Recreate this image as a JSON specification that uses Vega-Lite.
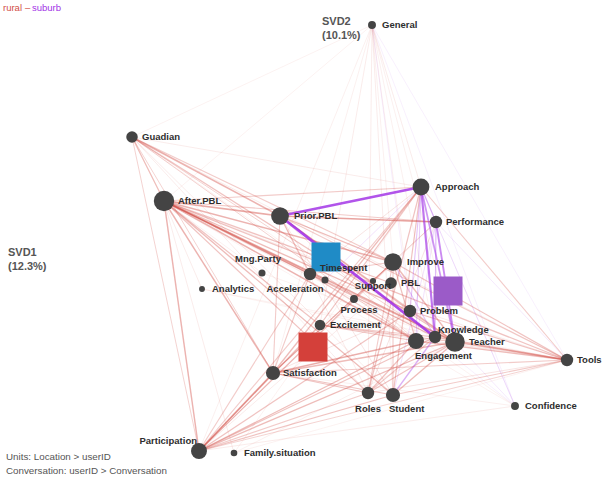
{
  "$schema": "https://vega.github.io/schema/vega-lite/v6.json",
  "width": 608,
  "height": 484,
  "autosize": "none",
  "padding": 0,
  "background": "white",
  "config": {"view": {"stroke": null}, "font": "Liberation Sans"},
  "datasets": {
    "nodes": [
      {"name": "General", "x": 0.21, "y": 1.175, "freq": 20},
      {"name": "Guadian", "x": -0.99, "y": 0.615, "freq": 42},
      {"name": "After.PBL", "x": -0.83, "y": 0.295, "freq": 132},
      {"name": "Prior.PBL", "x": -0.25, "y": 0.22, "freq": 100},
      {"name": "Approach", "x": 0.455, "y": 0.365, "freq": 90},
      {"name": "Performance", "x": 0.53, "y": 0.19, "freq": 49},
      {"name": "Mng.Party", "x": -0.34, "y": -0.065, "freq": 16},
      {"name": "Acceleration", "x": -0.10, "y": -0.07, "freq": 49},
      {"name": "Timespent", "x": -0.025, "y": -0.10, "freq": 16},
      {"name": "Analytics", "x": -0.64, "y": -0.145, "freq": 11},
      {"name": "Improve", "x": 0.315, "y": -0.01, "freq": 100},
      {"name": "PBL", "x": 0.305, "y": -0.115, "freq": 42},
      {"name": "Support", "x": 0.215, "y": -0.105, "freq": 12},
      {"name": "Process", "x": 0.12, "y": -0.195, "freq": 20},
      {"name": "Excitement", "x": -0.05, "y": -0.325, "freq": 36},
      {"name": "Problem", "x": 0.40, "y": -0.255, "freq": 49},
      {"name": "Knowledge", "x": 0.525, "y": -0.385, "freq": 49},
      {"name": "Engagement", "x": 0.43, "y": -0.405, "freq": 81},
      {"name": "Teacher", "x": 0.625, "y": -0.41, "freq": 121},
      {"name": "Satisfaction", "x": -0.285, "y": -0.565, "freq": 64},
      {"name": "Roles", "x": 0.19, "y": -0.665, "freq": 49},
      {"name": "Student", "x": 0.315, "y": -0.675, "freq": 64},
      {"name": "Tools", "x": 1.185, "y": -0.50, "freq": 49},
      {"name": "Confidence", "x": 0.925, "y": -0.73, "freq": 20},
      {"name": "Participation", "x": -0.655, "y": -0.955, "freq": 81},
      {"name": "Family.situation", "x": -0.48, "y": -0.965, "freq": 14}
    ],
    "edges": [
      {"from": "General", "to": "Participation", "g": "rural", "w": 0.12},
      {"from": "General", "to": "Satisfaction", "g": "rural", "w": 0.12},
      {"from": "General", "to": "Teacher", "g": "rural", "w": 0.12},
      {"from": "General", "to": "Student", "g": "rural", "w": 0.15},
      {"from": "General", "to": "Roles", "g": "rural", "w": 0.15},
      {"from": "General", "to": "Knowledge", "g": "rural", "w": 0.12},
      {"from": "General", "to": "Engagement", "g": "rural", "w": 0.12},
      {"from": "General", "to": "Tools", "g": "suburb", "w": 0.1},
      {"from": "General", "to": "Excitement", "g": "rural", "w": 0.15},
      {"from": "General", "to": "Improve", "g": "rural", "w": 0.12},
      {"from": "General", "to": "Approach", "g": "rural", "w": 0.15},
      {"from": "General", "to": "Guadian", "g": "rural", "w": 0.1},
      {"from": "General", "to": "After.PBL", "g": "rural", "w": 0.1},
      {"from": "General", "to": "Confidence", "g": "suburb", "w": 0.1},
      {"from": "General", "to": "Problem", "g": "suburb", "w": 0.12},
      {"from": "Confidence", "to": "Approach", "g": "suburb", "w": 0.15},
      {"from": "Confidence", "to": "Performance", "g": "suburb", "w": 0.12},
      {"from": "Confidence", "to": "Participation", "g": "rural", "w": 0.15},
      {"from": "Confidence", "to": "Satisfaction", "g": "rural", "w": 0.12},
      {"from": "Confidence", "to": "Teacher", "g": "suburb", "w": 0.15},
      {"from": "Confidence", "to": "Prior.PBL", "g": "suburb", "w": 0.1},
      {"from": "Confidence", "to": "After.PBL", "g": "rural", "w": 0.1},
      {"from": "Confidence", "to": "Guadian", "g": "rural", "w": 0.1},
      {"from": "Family.situation", "to": "Teacher", "g": "rural", "w": 0.12},
      {"from": "Family.situation", "to": "Tools", "g": "rural", "w": 0.1},
      {"from": "Family.situation", "to": "After.PBL", "g": "rural", "w": 0.15},
      {"from": "Family.situation", "to": "Approach", "g": "rural", "w": 0.1},
      {"from": "Analytics", "to": "Teacher", "g": "rural", "w": 0.1},
      {"from": "Analytics", "to": "After.PBL", "g": "rural", "w": 0.15},
      {"from": "Analytics", "to": "Tools", "g": "rural", "w": 0.1},
      {"from": "Mng.Party", "to": "Teacher", "g": "rural", "w": 0.1},
      {"from": "Mng.Party", "to": "After.PBL", "g": "rural", "w": 0.12},
      {"from": "Process", "to": "After.PBL", "g": "rural", "w": 0.15},
      {"from": "Process", "to": "Teacher", "g": "rural", "w": 0.15},
      {"from": "Support", "to": "After.PBL", "g": "rural", "w": 0.15},
      {"from": "Support", "to": "Participation", "g": "rural", "w": 0.12},
      {"from": "Guadian", "to": "Tools", "g": "rural", "w": 0.15},
      {"from": "Guadian", "to": "Roles", "g": "rural", "w": 0.15},
      {"from": "Guadian", "to": "Student", "g": "rural", "w": 0.15},
      {"from": "Guadian", "to": "Approach", "g": "rural", "w": 0.15},
      {"from": "Participation", "to": "Performance", "g": "rural", "w": 0.15},
      {"from": "Participation", "to": "PBL", "g": "rural", "w": 0.15},
      {"from": "Satisfaction", "to": "Knowledge", "g": "rural", "w": 0.2},
      {"from": "Satisfaction", "to": "Problem", "g": "rural", "w": 0.2},
      {"from": "Tools", "to": "Roles", "g": "rural", "w": 0.2},
      {"from": "Tools", "to": "Excitement", "g": "rural", "w": 0.2},
      {"from": "Tools", "to": "Acceleration", "g": "rural", "w": 0.15},
      {"from": "Tools", "to": "Performance", "g": "suburb", "w": 0.15},
      {"from": "Prior.PBL", "to": "Roles", "g": "rural", "w": 0.15},
      {"from": "Prior.PBL", "to": "Student", "g": "rural", "w": 0.2},
      {"from": "Prior.PBL", "to": "Engagement", "g": "rural", "w": 0.2},
      {"from": "Performance", "to": "Student", "g": "suburb", "w": 0.2},
      {"from": "Performance", "to": "Roles", "g": "rural", "w": 0.2},
      {"from": "Performance", "to": "Engagement", "g": "suburb", "w": 0.2},
      {"from": "Approach", "to": "Acceleration", "g": "rural", "w": 0.2},
      {"from": "Approach", "to": "Timespent", "g": "suburb", "w": 0.2},
      {"from": "After.PBL", "to": "Prior.PBL", "g": "rural", "w": 0.55},
      {"from": "After.PBL", "to": "Acceleration", "g": "rural", "w": 0.45},
      {"from": "After.PBL", "to": "Timespent", "g": "rural", "w": 0.4},
      {"from": "After.PBL", "to": "Improve", "g": "rural", "w": 0.5},
      {"from": "After.PBL", "to": "PBL", "g": "rural", "w": 0.4},
      {"from": "After.PBL", "to": "Problem", "g": "rural", "w": 0.45},
      {"from": "After.PBL", "to": "Knowledge", "g": "rural", "w": 0.45},
      {"from": "After.PBL", "to": "Teacher", "g": "rural", "w": 0.55},
      {"from": "After.PBL", "to": "Engagement", "g": "rural", "w": 0.5},
      {"from": "After.PBL", "to": "Satisfaction", "g": "rural", "w": 0.5},
      {"from": "After.PBL", "to": "Student", "g": "rural", "w": 0.45},
      {"from": "After.PBL", "to": "Roles", "g": "rural", "w": 0.4},
      {"from": "After.PBL", "to": "Participation", "g": "rural", "w": 0.5},
      {"from": "After.PBL", "to": "Tools", "g": "rural", "w": 0.4},
      {"from": "After.PBL", "to": "Guadian", "g": "rural", "w": 0.45},
      {"from": "After.PBL", "to": "Excitement", "g": "rural", "w": 0.4},
      {"from": "After.PBL", "to": "Approach", "g": "rural", "w": 0.35},
      {"from": "After.PBL", "to": "Performance", "g": "rural", "w": 0.35},
      {"from": "Guadian", "to": "Prior.PBL", "g": "rural", "w": 0.5},
      {"from": "Guadian", "to": "Improve", "g": "rural", "w": 0.35},
      {"from": "Guadian", "to": "Teacher", "g": "rural", "w": 0.4},
      {"from": "Guadian", "to": "Satisfaction", "g": "rural", "w": 0.3},
      {"from": "Guadian", "to": "Participation", "g": "rural", "w": 0.3},
      {"from": "Guadian", "to": "Knowledge", "g": "rural", "w": 0.3},
      {"from": "Guadian", "to": "Engagement", "g": "rural", "w": 0.3},
      {"from": "Participation", "to": "Satisfaction", "g": "rural", "w": 0.55},
      {"from": "Participation", "to": "Excitement", "g": "rural", "w": 0.45},
      {"from": "Participation", "to": "Teacher", "g": "rural", "w": 0.45},
      {"from": "Participation", "to": "Engagement", "g": "rural", "w": 0.45},
      {"from": "Participation", "to": "Knowledge", "g": "rural", "w": 0.4},
      {"from": "Participation", "to": "Student", "g": "rural", "w": 0.4},
      {"from": "Participation", "to": "Roles", "g": "rural", "w": 0.35},
      {"from": "Participation", "to": "Tools", "g": "rural", "w": 0.3},
      {"from": "Participation", "to": "Improve", "g": "rural", "w": 0.4},
      {"from": "Participation", "to": "Approach", "g": "rural", "w": 0.35},
      {"from": "Participation", "to": "Problem", "g": "rural", "w": 0.4},
      {"from": "Participation", "to": "Acceleration", "g": "rural", "w": 0.35},
      {"from": "Satisfaction", "to": "Approach", "g": "rural", "w": 0.45},
      {"from": "Satisfaction", "to": "Teacher", "g": "rural", "w": 0.45},
      {"from": "Satisfaction", "to": "Engagement", "g": "rural", "w": 0.45},
      {"from": "Satisfaction", "to": "Tools", "g": "rural", "w": 0.35},
      {"from": "Satisfaction", "to": "Student", "g": "rural", "w": 0.4},
      {"from": "Satisfaction", "to": "Roles", "g": "rural", "w": 0.4},
      {"from": "Satisfaction", "to": "Improve", "g": "rural", "w": 0.4},
      {"from": "Satisfaction", "to": "Performance", "g": "rural", "w": 0.3},
      {"from": "Satisfaction", "to": "Prior.PBL", "g": "rural", "w": 0.35},
      {"from": "Satisfaction", "to": "Acceleration", "g": "rural", "w": 0.35},
      {"from": "Tools", "to": "Teacher", "g": "rural", "w": 0.5},
      {"from": "Tools", "to": "Engagement", "g": "rural", "w": 0.45},
      {"from": "Tools", "to": "Knowledge", "g": "rural", "w": 0.45},
      {"from": "Tools", "to": "Improve", "g": "rural", "w": 0.4},
      {"from": "Tools", "to": "Problem", "g": "rural", "w": 0.4},
      {"from": "Tools", "to": "Prior.PBL", "g": "rural", "w": 0.35},
      {"from": "Tools", "to": "Approach", "g": "rural", "w": 0.35},
      {"from": "Tools", "to": "Student", "g": "rural", "w": 0.35},
      {"from": "Approach", "to": "Roles", "g": "rural", "w": 0.4},
      {"from": "Approach", "to": "Student", "g": "rural", "w": 0.4},
      {"from": "Approach", "to": "Excitement", "g": "rural", "w": 0.4},
      {"from": "Improve", "to": "Roles", "g": "rural", "w": 0.35},
      {"from": "Improve", "to": "Student", "g": "rural", "w": 0.35},
      {"from": "Improve", "to": "Teacher", "g": "rural", "w": 0.45},
      {"from": "Improve", "to": "Engagement", "g": "rural", "w": 0.4},
      {"from": "Prior.PBL", "to": "Performance", "g": "rural", "w": 0.6},
      {"from": "Prior.PBL", "to": "Improve", "g": "rural", "w": 0.45},
      {"from": "Prior.PBL", "to": "Teacher", "g": "rural", "w": 0.4},
      {"from": "Prior.PBL", "to": "Problem", "g": "rural", "w": 0.4},
      {"from": "Prior.PBL", "to": "Acceleration", "g": "rural", "w": 0.4},
      {"from": "Excitement", "to": "Teacher", "g": "rural", "w": 0.4},
      {"from": "Excitement", "to": "Engagement", "g": "rural", "w": 0.4},
      {"from": "Excitement", "to": "Knowledge", "g": "rural", "w": 0.35},
      {"from": "Roles", "to": "Teacher", "g": "rural", "w": 0.4},
      {"from": "Student", "to": "Teacher", "g": "rural", "w": 0.45},
      {"from": "Roles", "to": "Engagement", "g": "rural", "w": 0.4},
      {"from": "Roles", "to": "Knowledge", "g": "rural", "w": 0.35},
      {"from": "Acceleration", "to": "Teacher", "g": "rural", "w": 0.35},
      {"from": "Acceleration", "to": "Engagement", "g": "rural", "w": 0.35},
      {"from": "Acceleration", "to": "Improve", "g": "rural", "w": 0.35},
      {"from": "Problem", "to": "Teacher", "g": "rural", "w": 0.4},
      {"from": "Approach", "to": "Problem", "g": "suburb", "w": 0.35},
      {"from": "Approach", "to": "Performance", "g": "suburb", "w": 0.4},
      {"from": "Approach", "to": "Engagement", "g": "suburb", "w": 0.3},
      {"from": "Performance", "to": "Knowledge", "g": "suburb", "w": 0.4},
      {"from": "Student", "to": "Knowledge", "g": "suburb", "w": 0.45},
      {"from": "Improve", "to": "Knowledge", "g": "suburb", "w": 0.35},
      {"from": "Approach", "to": "Teacher", "g": "suburb", "w": 0.6},
      {"from": "Performance", "to": "Teacher", "g": "suburb", "w": 0.65},
      {"from": "Approach", "to": "Knowledge", "g": "suburb", "w": 0.75},
      {"from": "Prior.PBL", "to": "Knowledge", "g": "suburb", "w": 0.95},
      {"from": "Prior.PBL", "to": "Approach", "g": "suburb", "w": 0.9}
    ],
    "means": [
      {"group": "rural", "x": -0.085, "y": -0.435},
      {"group": "other", "x": -0.02, "y": 0.015},
      {"group": "suburb", "x": 0.59, "y": -0.155}
    ],
    "axisNotes": [
      {"t": "SVD2\n(10.1%)", "x": -0.04, "y": 1.22},
      {"t": "SVD1\n(12.3%)", "x": -1.61, "y": 0.065}
    ],
    "footer": [
      {"t": "Units: Location > userID", "x": -1.62, "y": -0.985},
      {"t": "Conversation: userID > Conversation", "x": -1.62, "y": -1.055}
    ],
    "legendText": [
      {"t": "rural", "x": -1.635, "y": 1.26, "c": "rural"},
      {"t": "–", "x": -1.525, "y": 1.26, "c": "dash"},
      {"t": "suburb", "x": -1.49, "y": 1.26, "c": "suburb"}
    ]
  },
  "encoding": {
    "x": {"field": "x", "type": "quantitative", "scale": {"domain": [-1.65, 1.39], "nice": false, "zero": false}, "axis": null},
    "y": {"field": "y", "type": "quantitative", "scale": {"domain": [-1.12, 1.3], "nice": false, "zero": false}, "axis": null}
  },
  "layer": [
    {
      "data": {"name": "edges"},
      "transform": [
        {"lookup": "from", "from": {"data": {"values": [
          {"name": "General", "x": 0.21, "y": 1.175},
          {"name": "Guadian", "x": -0.99, "y": 0.615},
          {"name": "After.PBL", "x": -0.83, "y": 0.295},
          {"name": "Prior.PBL", "x": -0.25, "y": 0.22},
          {"name": "Approach", "x": 0.455, "y": 0.365},
          {"name": "Performance", "x": 0.53, "y": 0.19},
          {"name": "Mng.Party", "x": -0.34, "y": -0.065},
          {"name": "Acceleration", "x": -0.10, "y": -0.07},
          {"name": "Timespent", "x": -0.025, "y": -0.10},
          {"name": "Analytics", "x": -0.64, "y": -0.145},
          {"name": "Improve", "x": 0.315, "y": -0.01},
          {"name": "PBL", "x": 0.305, "y": -0.115},
          {"name": "Support", "x": 0.215, "y": -0.105},
          {"name": "Process", "x": 0.12, "y": -0.195},
          {"name": "Excitement", "x": -0.05, "y": -0.325},
          {"name": "Problem", "x": 0.40, "y": -0.255},
          {"name": "Knowledge", "x": 0.525, "y": -0.385},
          {"name": "Engagement", "x": 0.43, "y": -0.405},
          {"name": "Teacher", "x": 0.625, "y": -0.41},
          {"name": "Satisfaction", "x": -0.285, "y": -0.565},
          {"name": "Roles", "x": 0.19, "y": -0.665},
          {"name": "Student", "x": 0.315, "y": -0.675},
          {"name": "Tools", "x": 1.185, "y": -0.50},
          {"name": "Confidence", "x": 0.925, "y": -0.73},
          {"name": "Participation", "x": -0.655, "y": -0.955},
          {"name": "Family.situation", "x": -0.48, "y": -0.965}
        ]}, "key": "name", "fields": ["x", "y"]}, "as": ["x", "y"]},
        {"lookup": "to", "from": {"data": {"values": [
          {"name": "General", "x2": 0.21, "y2": 1.175},
          {"name": "Guadian", "x2": -0.99, "y2": 0.615},
          {"name": "After.PBL", "x2": -0.83, "y2": 0.295},
          {"name": "Prior.PBL", "x2": -0.25, "y2": 0.22},
          {"name": "Approach", "x2": 0.455, "y2": 0.365},
          {"name": "Performance", "x2": 0.53, "y2": 0.19},
          {"name": "Mng.Party", "x2": -0.34, "y2": -0.065},
          {"name": "Acceleration", "x2": -0.10, "y2": -0.07},
          {"name": "Timespent", "x2": -0.025, "y2": -0.10},
          {"name": "Analytics", "x2": -0.64, "y2": -0.145},
          {"name": "Improve", "x2": 0.315, "y2": -0.01},
          {"name": "PBL", "x2": 0.305, "y2": -0.115},
          {"name": "Support", "x2": 0.215, "y2": -0.105},
          {"name": "Process", "x2": 0.12, "y2": -0.195},
          {"name": "Excitement", "x2": -0.05, "y2": -0.325},
          {"name": "Problem", "x2": 0.40, "y2": -0.255},
          {"name": "Knowledge", "x2": 0.525, "y2": -0.385},
          {"name": "Engagement", "x2": 0.43, "y2": -0.405},
          {"name": "Teacher", "x2": 0.625, "y2": -0.41},
          {"name": "Satisfaction", "x2": -0.285, "y2": -0.565},
          {"name": "Roles", "x2": 0.19, "y2": -0.665},
          {"name": "Student", "x2": 0.315, "y2": -0.675},
          {"name": "Tools", "x2": 1.185, "y2": -0.50},
          {"name": "Confidence", "x2": 0.925, "y2": -0.73},
          {"name": "Participation", "x2": -0.655, "y2": -0.955},
          {"name": "Family.situation", "x2": -0.48, "y2": -0.965}
        ]}, "key": "name", "fields": ["x2", "y2"]}}
      ],
      "mark": {"type": "rule"},
      "encoding": {
        "x2": {"field": "x2"},
        "y2": {"field": "y2"},
        "color": {"field": "g", "type": "nominal", "scale": {"domain": ["rural", "suburb"], "range": ["#d24e46", "#a233e6"]}, "legend": null},
        "strokeWidth": {"field": "w", "type": "quantitative", "scale": {"type": "pow", "exponent": 1.5, "domain": [0, 1], "range": [0.6, 3.0]}, "legend": null},
        "opacity": {"field": "w", "type": "quantitative", "scale": {"type": "pow", "exponent": 1.3, "domain": [0, 1], "range": [0.07, 0.95]}, "legend": null}
      }
    },
    {
      "data": {"name": "means"},
      "mark": {"type": "point", "shape": "square", "filled": true, "size": 841, "opacity": 1},
      "encoding": {
        "fill": {"field": "group", "type": "nominal", "scale": {"domain": ["rural", "other", "suburb"], "range": ["#d4403a", "#1f8bc6", "#9b5bc8"]}, "legend": null}
      }
    },
    {
      "data": {"name": "nodes"},
      "mark": {"type": "circle", "color": "#444444", "opacity": 1},
      "encoding": {
        "size": {"field": "freq", "type": "quantitative", "scale": {"domain": [0, 100], "range": [0, 314]}, "legend": null}
      }
    },
    {
      "data": {"name": "nodes"},
      "transform": [{"filter": {"field": "name", "oneOf": ["General", "Guadian", "Performance", "Analytics", "PBL", "Problem", "Tools", "Confidence", "Excitement", "Satisfaction", "Family.situation"]}}],
      "mark": {"type": "text", "align": "left", "baseline": "middle", "dx": 10, "fontSize": 9.5, "fontWeight": "bold", "color": "#2e2e2e"},
      "encoding": {"text": {"field": "name"}}
    },
    {
      "data": {"name": "nodes"},
      "transform": [{"filter": {"field": "name", "oneOf": ["After.PBL", "Prior.PBL", "Approach", "Improve", "Teacher"]}}],
      "mark": {"type": "text", "align": "left", "baseline": "middle", "dx": 14, "fontSize": 9.5, "fontWeight": "bold", "color": "#2e2e2e"},
      "encoding": {"text": {"field": "name"}}
    },
    {
      "data": {"name": "nodes"},
      "transform": [{"filter": {"field": "name", "equal": "Mng.Party"}}],
      "mark": {"type": "text", "align": "center", "baseline": "middle", "dx": -4, "dy": -14, "fontSize": 9.5, "fontWeight": "bold", "color": "#2e2e2e"},
      "encoding": {"text": {"field": "name"}}
    },
    {
      "data": {"name": "nodes"},
      "transform": [{"filter": {"field": "name", "equal": "Timespent"}}],
      "mark": {"type": "text", "align": "left", "baseline": "middle", "dx": -5, "dy": -12, "fontSize": 9.5, "fontWeight": "bold", "color": "#2e2e2e"},
      "encoding": {"text": {"field": "name"}}
    },
    {
      "data": {"name": "nodes"},
      "transform": [{"filter": {"field": "name", "equal": "Acceleration"}}],
      "mark": {"type": "text", "align": "center", "baseline": "middle", "dx": -15, "dy": 15, "fontSize": 9.5, "fontWeight": "bold", "color": "#2e2e2e"},
      "encoding": {"text": {"field": "name"}}
    },
    {
      "data": {"name": "nodes"},
      "transform": [{"filter": {"field": "name", "equal": "Support"}}],
      "mark": {"type": "text", "align": "center", "baseline": "middle", "dx": 0, "dy": 5, "fontSize": 9.5, "fontWeight": "bold", "color": "#2e2e2e"},
      "encoding": {"text": {"field": "name"}}
    },
    {
      "data": {"name": "nodes"},
      "transform": [{"filter": {"field": "name", "equal": "Process"}}],
      "mark": {"type": "text", "align": "center", "baseline": "middle", "dx": 5, "dy": 11, "fontSize": 9.5, "fontWeight": "bold", "color": "#2e2e2e"},
      "encoding": {"text": {"field": "name"}}
    },
    {
      "data": {"name": "nodes"},
      "transform": [{"filter": {"field": "name", "equal": "Knowledge"}}],
      "mark": {"type": "text", "align": "left", "baseline": "middle", "dx": 3, "dy": -7, "fontSize": 9.5, "fontWeight": "bold", "color": "#2e2e2e"},
      "encoding": {"text": {"field": "name"}}
    },
    {
      "data": {"name": "nodes"},
      "transform": [{"filter": {"field": "name", "equal": "Engagement"}}],
      "mark": {"type": "text", "align": "left", "baseline": "middle", "dx": -1, "dy": 15, "fontSize": 9.5, "fontWeight": "bold", "color": "#2e2e2e"},
      "encoding": {"text": {"field": "name"}}
    },
    {
      "data": {"name": "nodes"},
      "transform": [{"filter": {"field": "name", "equal": "Roles"}}],
      "mark": {"type": "text", "align": "center", "baseline": "middle", "dx": 0, "dy": 16, "fontSize": 9.5, "fontWeight": "bold", "color": "#2e2e2e"},
      "encoding": {"text": {"field": "name"}}
    },
    {
      "data": {"name": "nodes"},
      "transform": [{"filter": {"field": "name", "equal": "Student"}}],
      "mark": {"type": "text", "align": "left", "baseline": "middle", "dx": -4, "dy": 14, "fontSize": 9.5, "fontWeight": "bold", "color": "#2e2e2e"},
      "encoding": {"text": {"field": "name"}}
    },
    {
      "data": {"name": "nodes"},
      "transform": [{"filter": {"field": "name", "equal": "Participation"}}],
      "mark": {"type": "text", "align": "right", "baseline": "middle", "dx": -2, "dy": -10, "fontSize": 9.5, "fontWeight": "bold", "color": "#2e2e2e"},
      "encoding": {"text": {"field": "name"}}
    },
    {
      "data": {"name": "axisNotes"},
      "mark": {"type": "text", "align": "left", "baseline": "top", "lineBreak": "\n", "lineHeight": 14, "fontSize": 11, "fontWeight": "bold", "color": "#555"},
      "encoding": {"text": {"field": "t"}}
    },
    {
      "data": {"name": "footer"},
      "mark": {"type": "text", "align": "left", "baseline": "middle", "fontSize": 9.8, "color": "#555"},
      "encoding": {"text": {"field": "t"}}
    },
    {
      "data": {"name": "legendText"},
      "mark": {"type": "text", "align": "left", "baseline": "middle", "fontSize": 9.5},
      "encoding": {
        "text": {"field": "t"},
        "color": {"field": "c", "type": "nominal", "scale": {"domain": ["rural", "dash", "suburb"], "range": ["#c8615a", "#444444", "#b07ed8"]}, "legend": null}
      }
    }
  ]
}
